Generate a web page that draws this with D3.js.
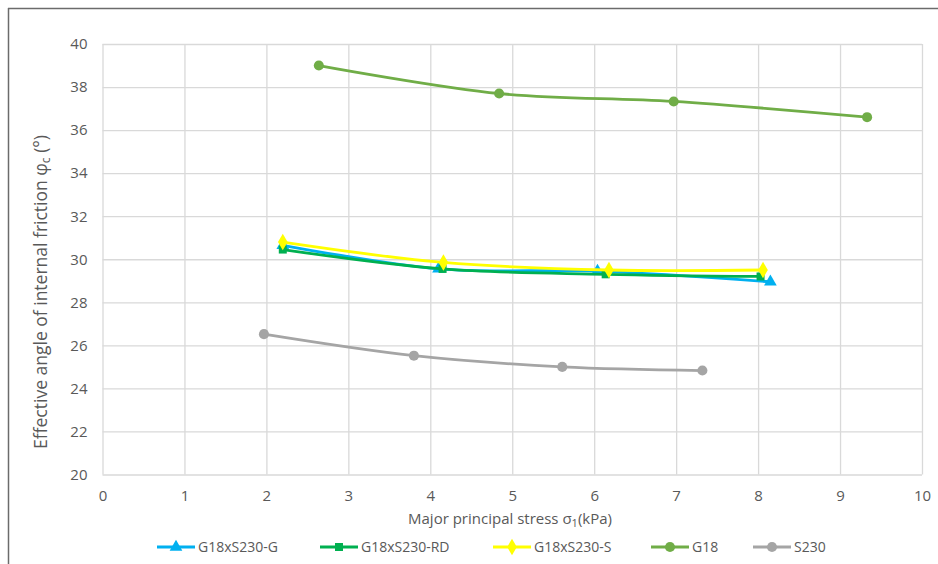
<!DOCTYPE html>
<html>
<head>
<meta charset="utf-8">
<script src="https://cdn.jsdelivr.net/npm/d3@7"></script>
<style>
  body { margin: 0; background: #fff; }
  svg text { font-family: "Open Sans", "Noto Sans", sans-serif; fill: #595959; }
</style>
</head>
<body>
<div id="chart"></div>
<script>
// values
const seriesNames = ['G18xS230-G', 'G18xS230-RD', 'G18xS230-S', 'G18', 'S230'];
const seriesColors = ['#00B0F0', '#00B050', '#FFFF00', '#70AD47', '#A5A5A5'];
const seriesSymbols = ['triangle', 'square', 'diamond', 'circle', 'circle'];

const g18xs230G_x = [2.2, 4.1, 6.04, 8.15];
const g18xs230G_y = [30.65, 29.55, 29.45, 28.95];
const g18xs230RD_x = [2.2, 4.15, 6.14, 8.03];
const g18xs230RD_y = [30.45, 29.55, 29.3, 29.2];
const g18xs230S_x = [2.2, 4.16, 6.18, 8.06];
const g18xs230S_y = [30.8, 29.85, 29.5, 29.5];
const g18_x = [2.64, 4.84, 6.97, 9.33];
const g18_y = [39.0, 37.7, 37.33, 36.6];
const s230_x = [1.97, 3.8, 5.61, 7.32];
const s230_y = [26.52, 25.52, 25.0, 24.83];

const xTicks = [0, 1, 2, 3, 4, 5, 6, 7, 8, 9, 10];
const yTicks = [20, 22, 24, 26, 28, 30, 32, 34, 36, 38, 40];

const seriesX = [g18xs230G_x, g18xs230RD_x, g18xs230S_x, g18_x, s230_x];
const seriesY = [g18xs230G_y, g18xs230RD_y, g18xs230S_y, g18_y, s230_y];

const W = 938, H = 564;
const plot = { left: 102.5, right: 922, top: 44, bottom: 474.5 };

const svg = d3.select('#chart').append('svg')
    .attr('width', W).attr('height', H);

// chart frame (top and left edges visible in the crop)
svg.append('line').attr('x1', 8).attr('x2', W).attr('y1', 8.5).attr('y2', 8.5)
    .attr('stroke', '#6b6b6b').attr('stroke-width', 1.5);
svg.append('line').attr('x1', 8.5).attr('x2', 8.5).attr('y1', 8).attr('y2', H)
    .attr('stroke', '#6b6b6b').attr('stroke-width', 1.5);

const x = d3.scaleLinear().domain([0, 10]).range([plot.left, plot.right]);
const y = d3.scaleLinear().domain([20, 40]).range([plot.bottom, plot.top]);

// gridlines
svg.append('g')
    .attr('transform', `translate(0,${plot.bottom})`)
    .call(d3.axisBottom(x).tickValues(xTicks).tickSize(-(plot.bottom - plot.top)).tickFormat(''))
    .call(g => g.select('.domain').remove())
    .call(g => g.selectAll('line').attr('stroke', '#D9D9D9').attr('stroke-width', 1.3));
svg.append('g')
    .attr('transform', `translate(${plot.left},0)`)
    .call(d3.axisLeft(y).tickValues(yTicks).tickSize(-(plot.right - plot.left)).tickFormat(''))
    .call(g => g.select('.domain').remove())
    .call(g => g.selectAll('line').attr('stroke', '#D9D9D9').attr('stroke-width', 1.3));

// tick labels
const xAxis = svg.append('g')
    .attr('transform', `translate(0,${plot.bottom})`)
    .call(d3.axisBottom(x).tickValues(xTicks).tickSize(0).tickPadding(16));
xAxis.select('.domain').remove();
xAxis.selectAll('text').style('font-size', '15px').style('fill', '#595959');

const yAxis = svg.append('g')
    .attr('transform', `translate(${plot.left},0)`)
    .call(d3.axisLeft(y).tickValues(yTicks).tickSize(0).tickPadding(15));
yAxis.select('.domain').remove();
yAxis.selectAll('text').style('font-size', '15px').style('fill', '#595959');

// axis titles
const xTitle = svg.append('text')
    .attr('x', 510).attr('y', 524)
    .attr('text-anchor', 'middle')
    .style('font-size', '15px');
xTitle.append('tspan').text('Major principal stress σ');
xTitle.append('tspan').attr('dy', 3).style('font-size', '11px').text('1');
xTitle.append('tspan').attr('dy', -3).text('(kPa)');

const yTitle = svg.append('text')
    .attr('transform', 'translate(47,292) rotate(-90)')
    .attr('text-anchor', 'middle')
    .style('font-size', '17.5px');
yTitle.append('tspan').text('Effective angle of internal friction φ');
yTitle.append('tspan').attr('dy', 3).style('font-size', '12px').text('c');
yTitle.append('tspan').attr('dy', -3).text(' (°)');

const symbolType = {
    triangle: d3.symbolTriangle,
    square: d3.symbolSquare,
    diamond: d3.symbolDiamond,
    circle: d3.symbolCircle
};
const symbolSize = { triangle: 70, square: 64, diamond: 80, circle: 80 };

const line = d3.line()
    .x(d => x(d[0]))
    .y(d => y(d[1]))
    .curve(d3.curveCatmullRom.alpha(0.5));

// draw in Excel order so later series lie on top
seriesNames.forEach((name, i) => {
    const pts = seriesX[i].map((v, j) => [v, seriesY[i][j]]);
    const col = seriesColors[i];
    const sym = seriesSymbols[i];
    svg.append('path')
        .datum(pts)
        .attr('fill', 'none')
        .attr('stroke', col)
        .attr('stroke-width', 2.8)
        .attr('d', line);
    svg.selectAll(null)
        .data(pts)
        .enter().append('path')
        .attr('transform', d => `translate(${x(d[0])},${y(d[1])})`)
        .attr('d', d3.symbol().type(symbolType[sym]).size(symbolSize[sym]))
        .attr('fill', col);
});

// legend
const legendX = [157, 320, 493, 651, 753];
const legend = svg.append('g');
seriesNames.forEach((name, i) => {
    const lx = legendX[i], ly = 547;
    const sym = seriesSymbols[i];
    legend.append('line')
        .attr('x1', lx).attr('x2', lx + 38).attr('y1', ly).attr('y2', ly)
        .attr('stroke', seriesColors[i]).attr('stroke-width', 2.8);
    legend.append('path')
        .attr('transform', `translate(${lx + 19},${ly})`)
        .attr('d', d3.symbol().type(symbolType[sym]).size(symbolSize[sym]))
        .attr('fill', seriesColors[i]);
    legend.append('text')
        .attr('x', lx + 41).attr('y', ly + 5)
        .style('font-size', '14px')
        .text(name);
});
</script>
</body>
</html>
